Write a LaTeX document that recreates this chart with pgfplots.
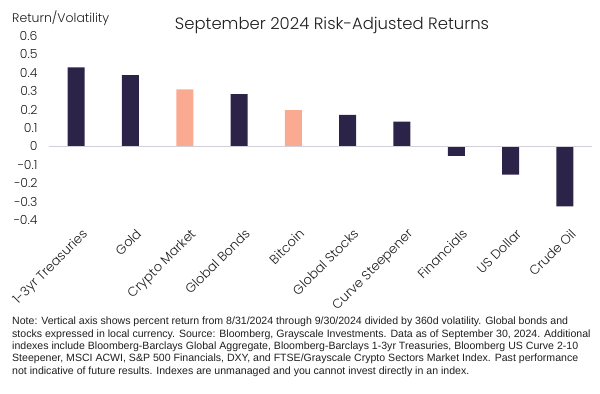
\documentclass[border=0pt]{standalone}
\usepackage{pgfplots}
\pgfplotsset{compat=1.18}
\usepackage{fontspec}
\setmainfont{Poppins}[UprightFont=* Light]
\newfontfamily\notefont{Liberation Sans}
\definecolor{navy}{HTML}{2C2448}
\definecolor{salmon}{HTML}{FBAA92}
\definecolor{zline}{HTML}{D4D0DA}
\definecolor{txt}{HTML}{1E1E1E}
\begin{document}
\begin{tikzpicture}[x=1bp,y=1bp]
\useasboundingbox (0,0) rectangle (600,393);
\begin{axis}[
  at={(49bp,173bp)}, anchor=south west,
  scale only axis, width=543bp, height=184bp,
  xmin=-0.5, xmax=9.5, ymin=-0.4, ymax=0.6,
  axis line style={draw=none},
  clip=false,
  ybar, bar width=17bp,
  xtick={0,...,9},
  xticklabels={1-3yr Treasuries,Gold,Crypto Market,Global Bonds,Bitcoin,Global Stocks,Curve Steepener,Financials,US Dollar,Crude Oil},
  ytick={-0.4,-0.3,-0.2,-0.1,0,0.1,0.2,0.3,0.4,0.5,0.6},
  yticklabels={−0.4,−0.3,−0.2,−0.1,0,0.1,0.2,0.3,0.4,0.5,0.6},
  major tick length=0pt,
  tick style={draw=none},
  xticklabel style={rotate=45, anchor=north east, font=\fontsize{13}{14}\selectfont, inner sep=0pt, yshift=-9bp, xshift=-2bp, text=txt},
  yticklabel style={anchor=east, font=\fontsize{12.5}{13}\selectfont, xshift=-8bp, text=txt},
]
\addplot[fill=navy, draw=none, bar shift=0pt] coordinates {(0,0.43) (1,0.387) (3,0.284) (5,0.172) (6,0.134) (7,-0.051) (8,-0.154) (9,-0.326)};
\addplot[fill=salmon, draw=none, bar shift=0pt] coordinates {(2,0.31) (4,0.197)};
\draw[zline, line width=0.8bp] (axis cs:-0.5,0) -- (axis cs:9.5,0);
\end{axis}
\node[anchor=base west, inner sep=0pt, text=txt, font=\fontsize{12.5}{13}\selectfont] at (12,393-22) {Return/Volatility};
\node[anchor=base, inner sep=0pt, text=txt, font=\fontsize{16.5}{17}\selectfont] at (332,393-29) {September 2024 Risk-Adjusted Returns};
\node[anchor=north west, inner sep=0pt, align=left, text=txt, font=\notefont\fontsize{10.6}{12.4}\selectfont] at (12,393-317) {Note: Vertical axis shows percent return from 8/31/2024 through 9/30/2024 divided by 360d volatility. Global bonds and\\
stocks expressed in local currency. Source: Bloomberg, Grayscale Investments. Data as of September 30, 2024. Additional\\
indexes include Bloomberg-Barclays Global Aggregate, Bloomberg-Barclays 1-3yr Treasuries, Bloomberg US Curve 2-10\\
Steepener, MSCI ACWI, S\&P 500 Financials, DXY, and FTSE/Grayscale Crypto Sectors Market Index. Past performance\\
not indicative of future results. Indexes are unmanaged and you cannot invest directly in an index.};
\end{tikzpicture}
\end{document}
